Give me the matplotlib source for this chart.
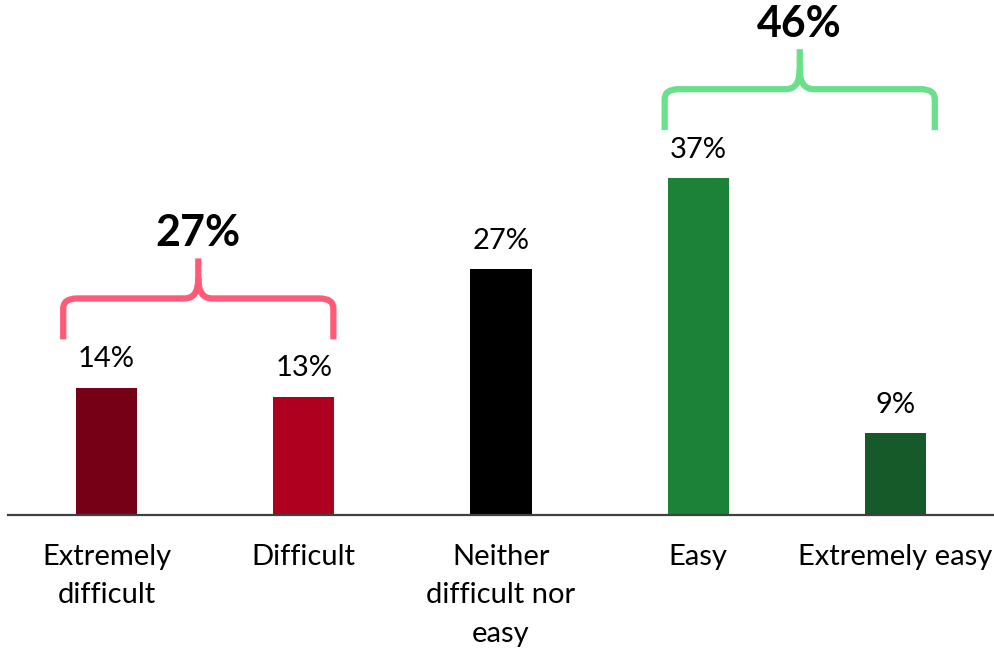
import matplotlib
matplotlib.use("Agg")
import matplotlib.pyplot as plt
from matplotlib.path import Path
from matplotlib.patches import PathPatch

plt.rcParams['font.family'] = ['Lato', 'DejaVu Sans']

categories = ["Extremely\ndifficult", "Difficult", "Neither\ndifficult nor\neasy",
              "Easy", "Extremely easy"]
values = [14, 13, 27, 37, 9]
bar_colors = ["#760015", "#B00020", "#000000", "#1B8237", "#155A28"]

# grouped totals shown above the braces
groups = [
    {"members": [0, 1], "color": "#FF5A78", "pad": (0.22, 0.15)},
    {"members": [3, 4], "color": "#6AE08A", "pad": (0.17, 0.20)},
]

fig = plt.figure(figsize=(9.94, 6.49), dpi=100)
ax = fig.add_axes([8 / 994, (649 - 515) / 649, 986 / 994, 515 / 649])

x = list(range(len(categories)))
ax.bar(x, values, width=0.31, color=bar_colors, zorder=2)

for xi, v in zip(x, values):
    ax.annotate(f"{v}%", (xi, v), xytext=(0, 11), textcoords="offset points",
                ha="center", va="bottom", fontsize=21, color="black")

ax.set_xlim(-0.5, len(categories) - 0.5)
ax.set_ylim(0, 56.6)
ax.set_xticks(x)
ax.set_xticklabels(categories, fontsize=21, linespacing=1.58)
ax.tick_params(axis="x", length=0, pad=21)
ax.set_yticks([])
for side in ("top", "left", "right"):
    ax.spines[side].set_visible(False)
ax.spines["bottom"].set_color("#404040")
ax.spines["bottom"].set_linewidth(1.6)


def draw_brace(ax, x0, x1, y_end, y_bar, y_tip, color):
    """Curly brace opening downward, tip at the top centre."""
    xm = (x0 + x1) / 2
    r = 0.07          # horizontal radius of corner curves (data units)
    ry = (y_bar - y_end) * 0.25
    left = [
        (x0, y_end),
        (x0, y_bar - ry),
        (x0, y_bar), (x0 + r, y_bar),
        (xm - r, y_bar),
        (xm, y_bar), (xm, y_tip - (y_tip - y_bar) * 0.5),
        (xm, y_tip),
    ]
    lcodes = [Path.MOVETO, Path.LINETO, Path.CURVE3, Path.CURVE3, Path.LINETO,
              Path.CURVE3, Path.CURVE3, Path.LINETO]
    right = [
        (x1, y_end),
        (x1, y_bar - ry),
        (x1, y_bar), (x1 - r, y_bar),
        (xm + r, y_bar),
        (xm, y_bar), (xm, y_tip - (y_tip - y_bar) * 0.5),
    ]
    rcodes = [Path.MOVETO, Path.LINETO, Path.CURVE3, Path.CURVE3, Path.LINETO,
              Path.CURVE3, Path.CURVE3]
    path = Path(left + right, lcodes + rcodes)
    ax.add_patch(PathPatch(path, facecolor="none", edgecolor=color, lw=4.5,
                           capstyle="butt", joinstyle="round", zorder=3))


for g in groups:
    a, b = g["members"]
    total = sum(values[i] for i in g["members"])
    top = max(values[i] for i in g["members"])
    x0 = a - g["pad"][0]
    x1 = b + g["pad"][1]
    y_end = top + 5.3
    y_bar = y_end + 4.5
    y_tip = y_bar + 4.4
    draw_brace(ax, x0, x1, y_end, y_bar, y_tip, g["color"])
    ax.text((x0 + x1) / 2, y_tip + 0.6, f"{total}%", ha="center", va="bottom",
            fontsize=31, fontweight="bold", color="black")

fig.savefig("out.png", dpi=100)
